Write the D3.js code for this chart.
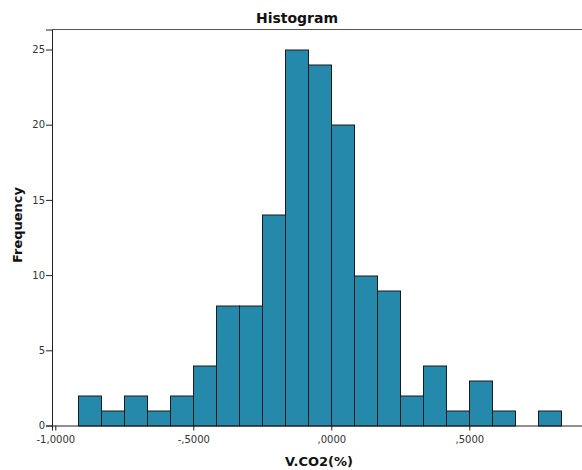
<!DOCTYPE html>
<html>
<head>
<meta charset="utf-8">
<script src="https://cdn.jsdelivr.net/npm/d3@7"></script>
<style>
  body { margin: 0; background: #fff; }
  text { font-family: "DejaVu Sans", sans-serif; }
  .tick text { fill: #333; font-size: 10px; }
</style>
</head>
<body>
<div id="chart"></div>
<script>
// histogram bins: width 1/12, starting at -11/12
var binWidth = 1 / 12;
var binStart = -11 / 12;
var counts = [2, 1, 2, 1, 2, 4, 8, 8, 14, 25, 24, 20, 10, 9, 2, 4, 1, 3, 1, 0, 1];
var xTicks = [-1, -0.5, 0, 0.5];
var xTickLabels = ["-1,0000", "-,5000", ",0000", ",5000"];
var yTicks = [0, 5, 10, 15, 20, 25];

var svgWidth = 582;
var svgHeight = 470;

var margin = { top: 29.5, right: -2, bottom: 44.5, left: 52 };
var width = svgWidth - margin.left - margin.right;
var height = svgHeight - margin.top - margin.bottom;

var svg = d3.select("#chart")
  .append("svg")
  .attr("width", svgWidth)
  .attr("height", svgHeight);

var chartGroup = svg.append("g")
  .attr("transform", `translate(${margin.left}, ${margin.top})`);

var xScale = d3.scaleLinear()
  .domain([-1.012, 0.9156])
  .range([0, width]);

var yScale = d3.scaleLinear()
  .domain([0, 26.33])
  .range([height, 0]);

var bins = counts.map(function(c, i) {
  return { x0: binStart + i * binWidth, x1: binStart + (i + 1) * binWidth, count: c };
});

// frame
chartGroup.append("line")
  .attr("x1", 0).attr("x2", width)
  .attr("y1", 0).attr("y2", 0)
  .attr("stroke", "#555").attr("stroke-width", 1);

// bars
chartGroup.selectAll("rect.bar")
  .data(bins.filter(d => d.count > 0))
  .enter()
  .append("rect")
  .attr("class", "bar")
  .attr("x", d => Math.round(xScale(d.x0)) + 0.5)
  .attr("y", d => Math.round(yScale(d.count)) + 0.5)
  .attr("width", d => Math.round(xScale(d.x1)) - Math.round(xScale(d.x0)))
  .attr("height", d => Math.round(yScale(0)) - Math.round(yScale(d.count)))
  .attr("fill", "#2589ab")
  .attr("stroke", "#1b1b1b")
  .attr("stroke-width", 1);

var bottomAxis = d3.axisBottom(xScale)
  .tickValues(xTicks)
  .tickFormat((d, i) => xTickLabels[i])
  .tickSizeOuter(0)
  .tickSize(5);

var leftAxis = d3.axisLeft(yScale)
  .tickValues(yTicks)
  .tickSizeOuter(0)
  .tickSize(6);

var xAxis = chartGroup.append("g")
  .attr("transform", `translate(0, ${height})`)
  .call(bottomAxis);

var yAxis = chartGroup.append("g")
  .call(leftAxis);

xAxis.select(".domain").attr("stroke", "#222");
yAxis.select(".domain").attr("stroke", "#222");
xAxis.selectAll(".tick line").attr("stroke", "#222");
yAxis.selectAll(".tick line").attr("stroke", "#222");
xAxis.selectAll(".tick text").attr("dy", "0.9em");
yAxis.selectAll(".tick text").attr("x", -7);

// title and axis labels
svg.append("text")
  .attr("x", 297)
  .attr("y", 23)
  .attr("text-anchor", "middle")
  .style("font-size", "14px")
  .style("font-weight", "bold")
  .attr("fill", "#111")
  .text("Histogram");

svg.append("text")
  .attr("transform", "rotate(-90)")
  .attr("x", -225)
  .attr("y", 22)
  .attr("text-anchor", "middle")
  .style("font-size", "13px")
  .style("font-weight", "bold")
  .attr("fill", "#111")
  .text("Frequency");

svg.append("text")
  .attr("x", 319)
  .attr("y", 466)
  .attr("text-anchor", "middle")
  .style("font-size", "13px")
  .style("font-weight", "bold")
  .attr("fill", "#111")
  .text("V.CO2(%)");
</script>
</body>
</html>
